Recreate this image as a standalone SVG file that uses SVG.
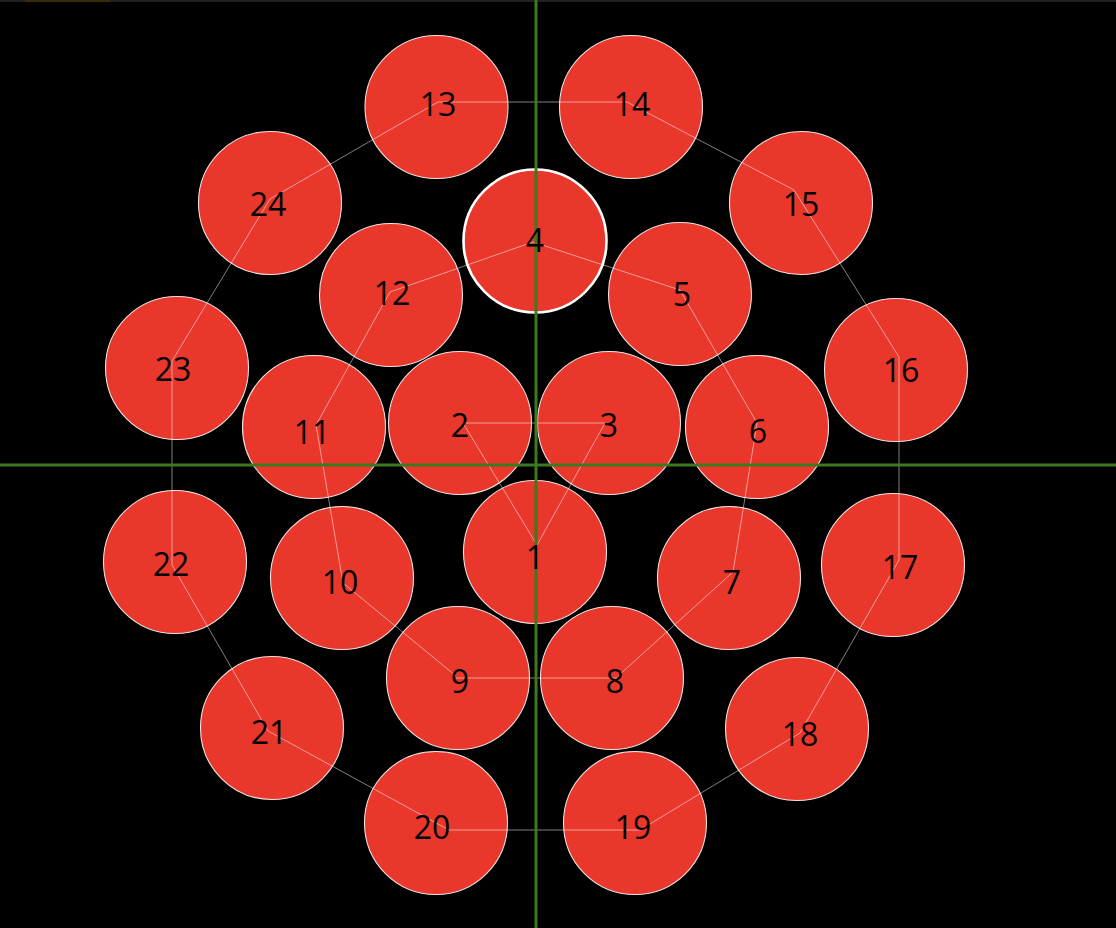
<svg xmlns="http://www.w3.org/2000/svg" width="1116" height="928" viewBox="0 0 1116 928">
<style>
.n circle{fill:#e9372b;stroke:#f2e2e0;stroke-width:1.1}
#n4 circle{stroke:#ffffff;stroke-width:2.6}
.n text{font-family:"Open Sans","Noto Sans","Liberation Sans",sans-serif;font-size:32px;fill:#000;text-anchor:middle}
#edges line{stroke:#ffffff;stroke-opacity:0.5;stroke-width:1}
.axis{stroke:#3c7a1f;stroke-width:3}
</style>
<rect x="0" y="0" width="1116" height="928" fill="#000"/>
<rect x="0" y="0" width="1116" height="2" fill="#202020"/>
<rect x="25" y="0" width="85" height="2" fill="#3a2c05"/>
<g id="nodes-circles">
<g class="n" id="n1"><circle cx="535" cy="552" r="71.5"/></g>
<g class="n" id="n2"><circle cx="460" cy="423" r="71.5"/></g>
<g class="n" id="n3"><circle cx="609" cy="423" r="71.5"/></g>
<g class="n" id="n4"><circle cx="535" cy="241" r="71.5"/></g>
<g class="n" id="n5"><circle cx="680" cy="294" r="71.5"/></g>
<g class="n" id="n6"><circle cx="757" cy="427" r="71.5"/></g>
<g class="n" id="n7"><circle cx="729" cy="578" r="71.5"/></g>
<g class="n" id="n8"><circle cx="612" cy="678" r="71.5"/></g>
<g class="n" id="n9"><circle cx="458" cy="678" r="71.5"/></g>
<g class="n" id="n10"><circle cx="342" cy="578" r="71.5"/></g>
<g class="n" id="n11"><circle cx="314" cy="427" r="71.5"/></g>
<g class="n" id="n12"><circle cx="391" cy="295" r="71.5"/></g>
<g class="n" id="n13"><circle cx="436.5" cy="107" r="71.5"/></g>
<g class="n" id="n14"><circle cx="631" cy="107" r="71.5"/></g>
<g class="n" id="n15"><circle cx="801" cy="203" r="71.5"/></g>
<g class="n" id="n16"><circle cx="896" cy="370" r="71.5"/></g>
<g class="n" id="n17"><circle cx="893" cy="565" r="71.5"/></g>
<g class="n" id="n18"><circle cx="797" cy="729" r="71.5"/></g>
<g class="n" id="n19"><circle cx="635" cy="823" r="71.5"/></g>
<g class="n" id="n20"><circle cx="436" cy="823" r="71.5"/></g>
<g class="n" id="n21"><circle cx="272" cy="728" r="71.5"/></g>
<g class="n" id="n22"><circle cx="175" cy="562" r="71.5"/></g>
<g class="n" id="n23"><circle cx="177" cy="368" r="71.5"/></g>
<g class="n" id="n24"><circle cx="270" cy="203" r="71.5"/></g>
</g>
<g id="edges">
<line x1="537" y1="545" x2="463" y2="423"/>
<line x1="463" y1="423" x2="605" y2="423"/>
<line x1="605" y1="423" x2="537" y2="545"/>
<line x1="533" y1="242" x2="680" y2="290"/>
<line x1="680" y1="290" x2="757" y2="423"/>
<line x1="757" y1="423" x2="733" y2="572"/>
<line x1="733" y1="572" x2="618" y2="676"/>
<line x1="618" y1="678" x2="456" y2="678"/>
<line x1="456" y1="676" x2="343" y2="583"/>
<line x1="343" y1="583" x2="316" y2="425"/>
<line x1="316" y1="425" x2="390" y2="292"/>
<line x1="390" y1="292" x2="533" y2="242"/>
<line x1="438" y1="102" x2="627" y2="102"/>
<line x1="627" y1="102" x2="794" y2="190"/>
<line x1="794" y1="190" x2="899" y2="357"/>
<line x1="899" y1="357" x2="899" y2="560"/>
<line x1="899" y1="560" x2="800" y2="733"/>
<line x1="800" y1="733" x2="640" y2="830"/>
<line x1="640" y1="830" x2="449" y2="830"/>
<line x1="449" y1="830" x2="268" y2="731"/>
<line x1="268" y1="731" x2="172" y2="565"/>
<line x1="172" y1="565" x2="172" y2="361"/>
<line x1="172" y1="361" x2="270" y2="199"/>
<line x1="270" y1="199" x2="438" y2="102"/>
</g>
<g id="axes">
<line class="axis" x1="536" y1="0" x2="536" y2="928"/>
<line class="axis" x1="0" y1="465" x2="1116" y2="465"/>
</g>
<g id="labels">
<g class="n" id="t1"><text x="535" y="569">1</text></g>
<g class="n" id="t2"><text x="460" y="437">2</text></g>
<g class="n" id="t3"><text x="609" y="437">3</text></g>
<g class="n" id="t4"><text x="535" y="252">4</text></g>
<g class="n" id="t5"><text x="682" y="306">5</text></g>
<g class="n" id="t6"><text x="758" y="443">6</text></g>
<g class="n" id="t7"><text x="732" y="594">7</text></g>
<g class="n" id="t8"><text x="615" y="693">8</text></g>
<g class="n" id="t9"><text x="460" y="693">9</text></g>
<g class="n" id="t10"><text x="340" y="594">10</text></g>
<g class="n" id="t11"><text x="312" y="444">11</text></g>
<g class="n" id="t12"><text x="392" y="305">12</text></g>
<g class="n" id="t13"><text x="438" y="116">13</text></g>
<g class="n" id="t14"><text x="632" y="116">14</text></g>
<g class="n" id="t15"><text x="801" y="216">15</text></g>
<g class="n" id="t16"><text x="901" y="382">16</text></g>
<g class="n" id="t17"><text x="900" y="579">17</text></g>
<g class="n" id="t18"><text x="800" y="746">18</text></g>
<g class="n" id="t19"><text x="633" y="839">19</text></g>
<g class="n" id="t20"><text x="432" y="839">20</text></g>
<g class="n" id="t21"><text x="269" y="744">21</text></g>
<g class="n" id="t22"><text x="171" y="576">22</text></g>
<g class="n" id="t23"><text x="173" y="381">23</text></g>
<g class="n" id="t24"><text x="268" y="216">24</text></g>
</g>
</svg>
